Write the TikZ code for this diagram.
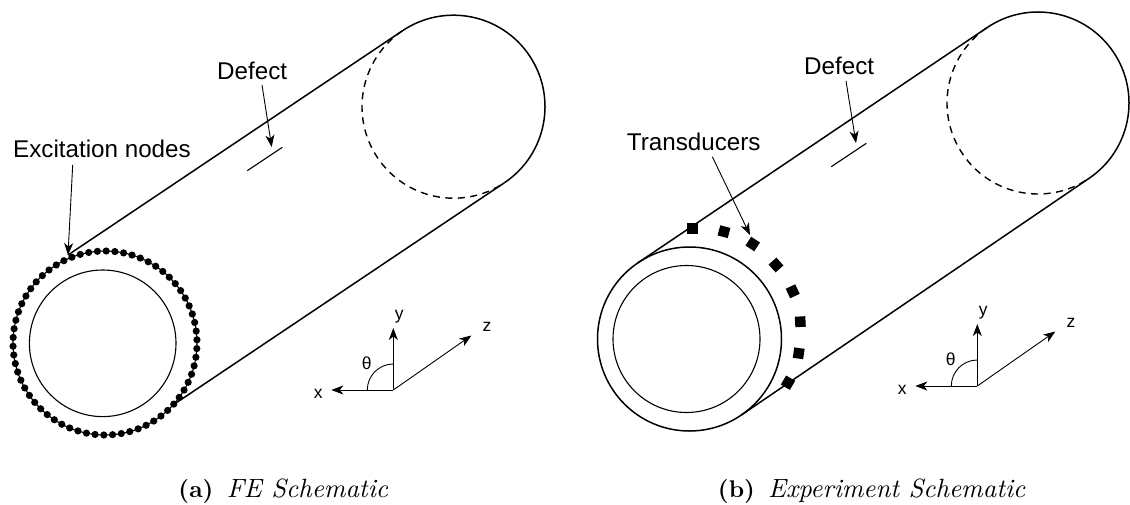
\documentclass[tikz,border=0pt]{standalone}
\usepackage{fontspec}
\setsansfont{Liberation Sans}
\usetikzlibrary{arrows.meta,calc}
\tikzset{
  body/.style={draw=black,line width=1.5pt},
  thin line/.style={draw=black,line width=1.1pt},
  hidden/.style={draw=black,line width=1.4pt,dash pattern=on 7pt off 5.5pt},
  pointer/.style={draw=black,line width=0.9pt,-{Stealth[length=12pt,width=9pt,inset=3.5pt]}},
  label/.style={inner sep=0pt,anchor=base west,font=\sffamily\fontsize{24.2}{28}\selectfont},
  small/.style={inner sep=0pt,font=\sffamily\fontsize{17.5}{20}\selectfont},
  caption/.style={inner sep=0pt,anchor=base west,scale=2.41,font=\fontsize{10}{12}\selectfont},
  dotmark/.style={circle,fill=black,inner sep=0pt,minimum size=7.2pt},
  sensor/.style={rectangle,fill=black,inner sep=0pt,minimum size=10.5pt},
  pics/axes/.style={code={
    \coordinate (-o) at (0,0);
    \coordinate (-x) at (-62,0);
    \coordinate (-y) at (0,-62);
    \coordinate (-z) at (78,-54.5);
    \draw[pointer] (-o) -- (-x);
    \draw[pointer] (-o) -- (-y);
    \draw[pointer] (-o) -- (-z);
    \draw[draw=black,line width=0.9pt] (-26,0) arc[start angle=180,end angle=90,radius=26pt];
    \node[small] (-xl) at (-75,4) {x};
    \node[small] (-yl) at (6,-73) {y};
    \node[small] (-zl) at (93.7,-63) {z};
    \node[small] (-tl) at (-26.5,-27) {θ};
  }}
}
\newcommand{\capital}[1]{{\fontsize{10.95}{12}\selectfont\itshape #1}}
\begin{document}
\begin{tikzpicture}[x=1pt,y=-1pt]
\useasboundingbox (0,0) rectangle (1130,504);

% ---------- panel (a)
\coordinate (ac) at (105,343);
\coordinate (ai) at (102.7,343.3);
\coordinate (af) at (453.5,106.7);
\coordinate (au1) at (68,255);
\coordinate (au2) at ($(af)+(124:91.5pt)$);
\coordinate (al1) at (173,405);
\coordinate (al2) at ($(af)+(-56:91.5pt)$);
\draw[body] (au1) -- (au2);
\draw[body] (al1) -- (al2);
\draw[body] (au2) arc[start angle=124,end angle=-56,radius=91.5pt];
\draw[hidden] (au2) arc[start angle=124,end angle=304,radius=91.5pt];
\draw[thin line] (ai) circle[radius=73.3pt];
\draw[thin line] (ac) circle[radius=92pt];
\foreach \i in {1,...,66}
  \node[dotmark] (d\i) at ($(ac)+({\i*5.4545+2}:92pt)$) {};

\node[label] (exlab) at (13,157) {Excitation nodes};
\coordinate (exs) at (72.7,165);
\draw[pointer] (exs) -- (au1);

\node[label] (defa) at (217,79) {Defect};
\coordinate (das) at (262,85);
\coordinate (dae) at (271.7,147);
\draw[pointer] (das) -- (dae);
\coordinate (da1) at (247.3,170.7);
\coordinate (da2) at (282.3,147.3);
\draw[thin line] (da1) -- (da2);

\pic (A) at (393.3,390) {axes};

\node[caption] (capa) at (178,497.5) {\textbf{(a)}\hspace{5.5pt}\capital{FE Schematic}};

% ---------- panel (b)
\coordinate (bc) at (689.5,339);
\coordinate (bi) at (686.5,339);
\coordinate (bf) at (1038,103);
\coordinate (bu1) at ($(bc)+(124:92pt)$);
\coordinate (bu2) at ($(bf)+(124:91pt)$);
\coordinate (bl1) at ($(bc)+(-56:92pt)$);
\coordinate (bl2) at ($(bf)+(-56:91pt)$);
\draw[body] (bu1) -- (bu2);
\draw[body] (bl1) -- (bl2);
\draw[body] (bu2) arc[start angle=124,end angle=-56,radius=91pt];
\draw[hidden] (bu2) arc[start angle=124,end angle=304,radius=91pt];
\draw[body] (bc) circle[radius=92pt];
\draw[thin line] (bi) circle[radius=73.5pt];
\foreach \i/\px/\py/\r in {1/692.7/228.3/0,2/724/231.7/-15,3/752.7/244/-33,4/776/265/-48,5/792.7/291.3/25,6/800.3/321.7/3,7/798.7/353.3/-8,8/788/382.7/-30}
  \node[sensor,rotate=\r] (t\i) at (\px,\py) {};

\node[label] (trlab) at (626.7,150.7) {Transducers};
\coordinate (trs) at (712.3,156.7);
\coordinate (tre) at (750,235);
\draw[pointer] (trs) -- (tre);

\node[label] (defb) at (804,74) {Defect};
\coordinate (dbs) at (846,81);
\coordinate (dbe) at (856,143);
\draw[pointer] (dbs) -- (dbe);
\coordinate (db1) at (831.3,166.7);
\coordinate (db2) at (866.3,143.3);
\draw[thin line] (db1) -- (db2);

\pic (B) at (977.3,386) {axes};

\node[caption] (capb) at (717.5,497.5) {\textbf{(b)}\hspace{5.5pt}\capital{Experiment Schematic}};
\end{tikzpicture}
\end{document}
